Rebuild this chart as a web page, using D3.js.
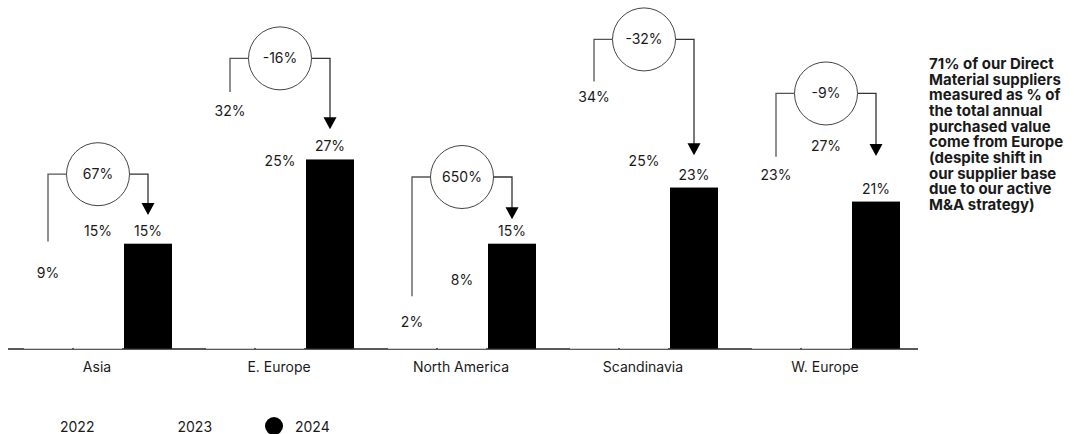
<!DOCTYPE html>
<html>
<head>
<meta charset="utf-8">
<script src="https://cdn.jsdelivr.net/npm/d3@7"></script>
<style>
  html, body { margin: 0; padding: 0; background: #fff; }
  svg { display: block; }
  text { font-family: Inter, "Liberation Sans", Arial, sans-serif; fill: #1a1a1a; }
</style>
</head>
<body>
<svg id="chart" width="1080" height="434"></svg>
<script>
// ---- data ----
const categories = ["Asia", "E. Europe", "North America", "Scandinavia", "W. Europe"];
const years = ["2022", "2023", "2024"];
const values2022 = [9, 32, 2, 34, 23];
const values2023 = [15, 25, 8, 25, 27];
const values2024 = [15, 27, 15, 23, 21];
// annotation arrow levels (in % units)
const arrowLevel = [24.9, 41.4, 24.5, 44.1, 36.4];
const arrowStart = [15.3, 36.6, 7.5, 38.1, 27.4];
const arrowEnd   = [19.1, 31.3, 18.5, 27.6, 27.5];
const noteLines = [
  "71% of our Direct",
  "Material suppliers",
  "measured as % of",
  "the total annual",
  "purchased value",
  "come from Europe",
  "(despite shift in",
  "our supplier base",
  "due to our active",
  "M&A strategy)"
];
const seriesFill = ["#ffffff", "#ffffff", "#000000"];

// ---- layout ----
const svg = d3.select("#chart");
const baseY = 349;
const y = d3.scaleLinear().domain([0, 50]).range([baseY, baseY - 7.02 * 50]);
const x0 = d3.scaleBand().domain(categories).range([6, 916]).padding(0);
const x1 = d3.scaleBand().domain(years).range([18, 166]).paddingInner(0.04).paddingOuter(0);

const seriesValues = [values2022, values2023, values2024];
const rows = categories.map((c, i) => ({
  cat: c,
  vals: years.map((yr, k) => ({ year: yr, k, v: seriesValues[k][i] }))
}));

// axis line
svg.append("line")
  .attr("x1", 8).attr("x2", 918)
  .attr("y1", baseY).attr("y2", baseY)
  .attr("stroke", "#222").attr("stroke-width", 1.6);

const g = svg.selectAll("g.cat").data(rows).enter().append("g")
  .attr("class", "cat")
  .attr("transform", d => `translate(${x0(d.cat)},0)`);

g.selectAll("rect").data(d => d.vals).enter().append("rect")
  .attr("x", d => x1(d.year))
  .attr("width", x1.bandwidth())
  .attr("y", d => y(d.v))
  .attr("height", d => y(0) - y(d.v) - 0.3)
  .attr("fill", d => seriesFill[d.k]);

g.selectAll("text.val").data(d => d.vals).enter().append("text")
  .attr("class", "val")
  .attr("x", d => x1(d.year) + x1.bandwidth() / 2)
  .attr("y", d => y(d.v) - 8)
  .attr("text-anchor", "middle")
  .style("font-size", "14px")
  .text(d => d.v + "%");

// category labels
svg.selectAll("text.cat").data(categories).enter().append("text")
  .attr("class", "cat")
  .attr("x", d => x0(d) + x0.bandwidth() / 2)
  .attr("y", 372)
  .attr("text-anchor", "middle")
  .style("font-size", "14px")
  .text(d => d);

// change annotations
const ann = svg.selectAll("g.ann").data(categories).enter().append("g").attr("class", "ann");
ann.each(function (c, i) {
  const a = d3.select(this);
  const xl = x0(c) + x1("2022") + x1.bandwidth() / 2;
  const xr = x0(c) + x1("2024") + x1.bandwidth() / 2;
  const xc = (xl + xr) / 2;
  const ly = y(arrowLevel[i]);
  const r = 31.5;
  const tip = y(arrowEnd[i]);
  const headH = 12, headW = 13;
  const change = Math.round((values2024[i] - values2022[i]) / values2022[i] * 100);
  a.append("path")
    .attr("d", `M${xl},${y(arrowStart[i])}V${ly}H${xc - r}`)
    .attr("fill", "none").attr("stroke", "#555").attr("stroke-width", 1.3);
  a.append("path")
    .attr("d", `M${xc + r},${ly}H${xr}V${tip - headH + 1}`)
    .attr("fill", "none").attr("stroke", "#333").attr("stroke-width", 1.3);
  a.append("path")
    .attr("d", `M${xr - headW / 2},${tip - headH}L${xr + headW / 2},${tip - headH}L${xr},${tip}Z`)
    .attr("fill", "#000");
  a.append("circle")
    .attr("cx", xc).attr("cy", ly).attr("r", r)
    .attr("fill", "#fff").attr("stroke", "#444").attr("stroke-width", 1);
  a.append("text")
    .attr("x", xc).attr("y", ly + 5)
    .attr("text-anchor", "middle")
    .style("font-size", "14px")
    .text(change + "%");
});

// legend
const leg = svg.selectAll("g.leg").data(years).enter().append("g").attr("class", "leg")
  .attr("transform", (d, k) => `translate(${39 + k * 117.5},426)`);
leg.append("circle").attr("r", 9).attr("fill", (d, k) => seriesFill[k]);
leg.append("text").attr("x", 21).attr("y", 5.5)
  .style("font-size", "14px").text(d => d);

// side note
svg.append("text")
  .attr("x", 929).attr("y", 69)
  .style("font-size", "15px").style("font-weight", "bold")
  .selectAll("tspan").data(noteLines).enter().append("tspan")
  .attr("x", 929).attr("dy", (d, k) => k === 0 ? 0 : 15.67)
  .text(d => d);
</script>
</body>
</html>
